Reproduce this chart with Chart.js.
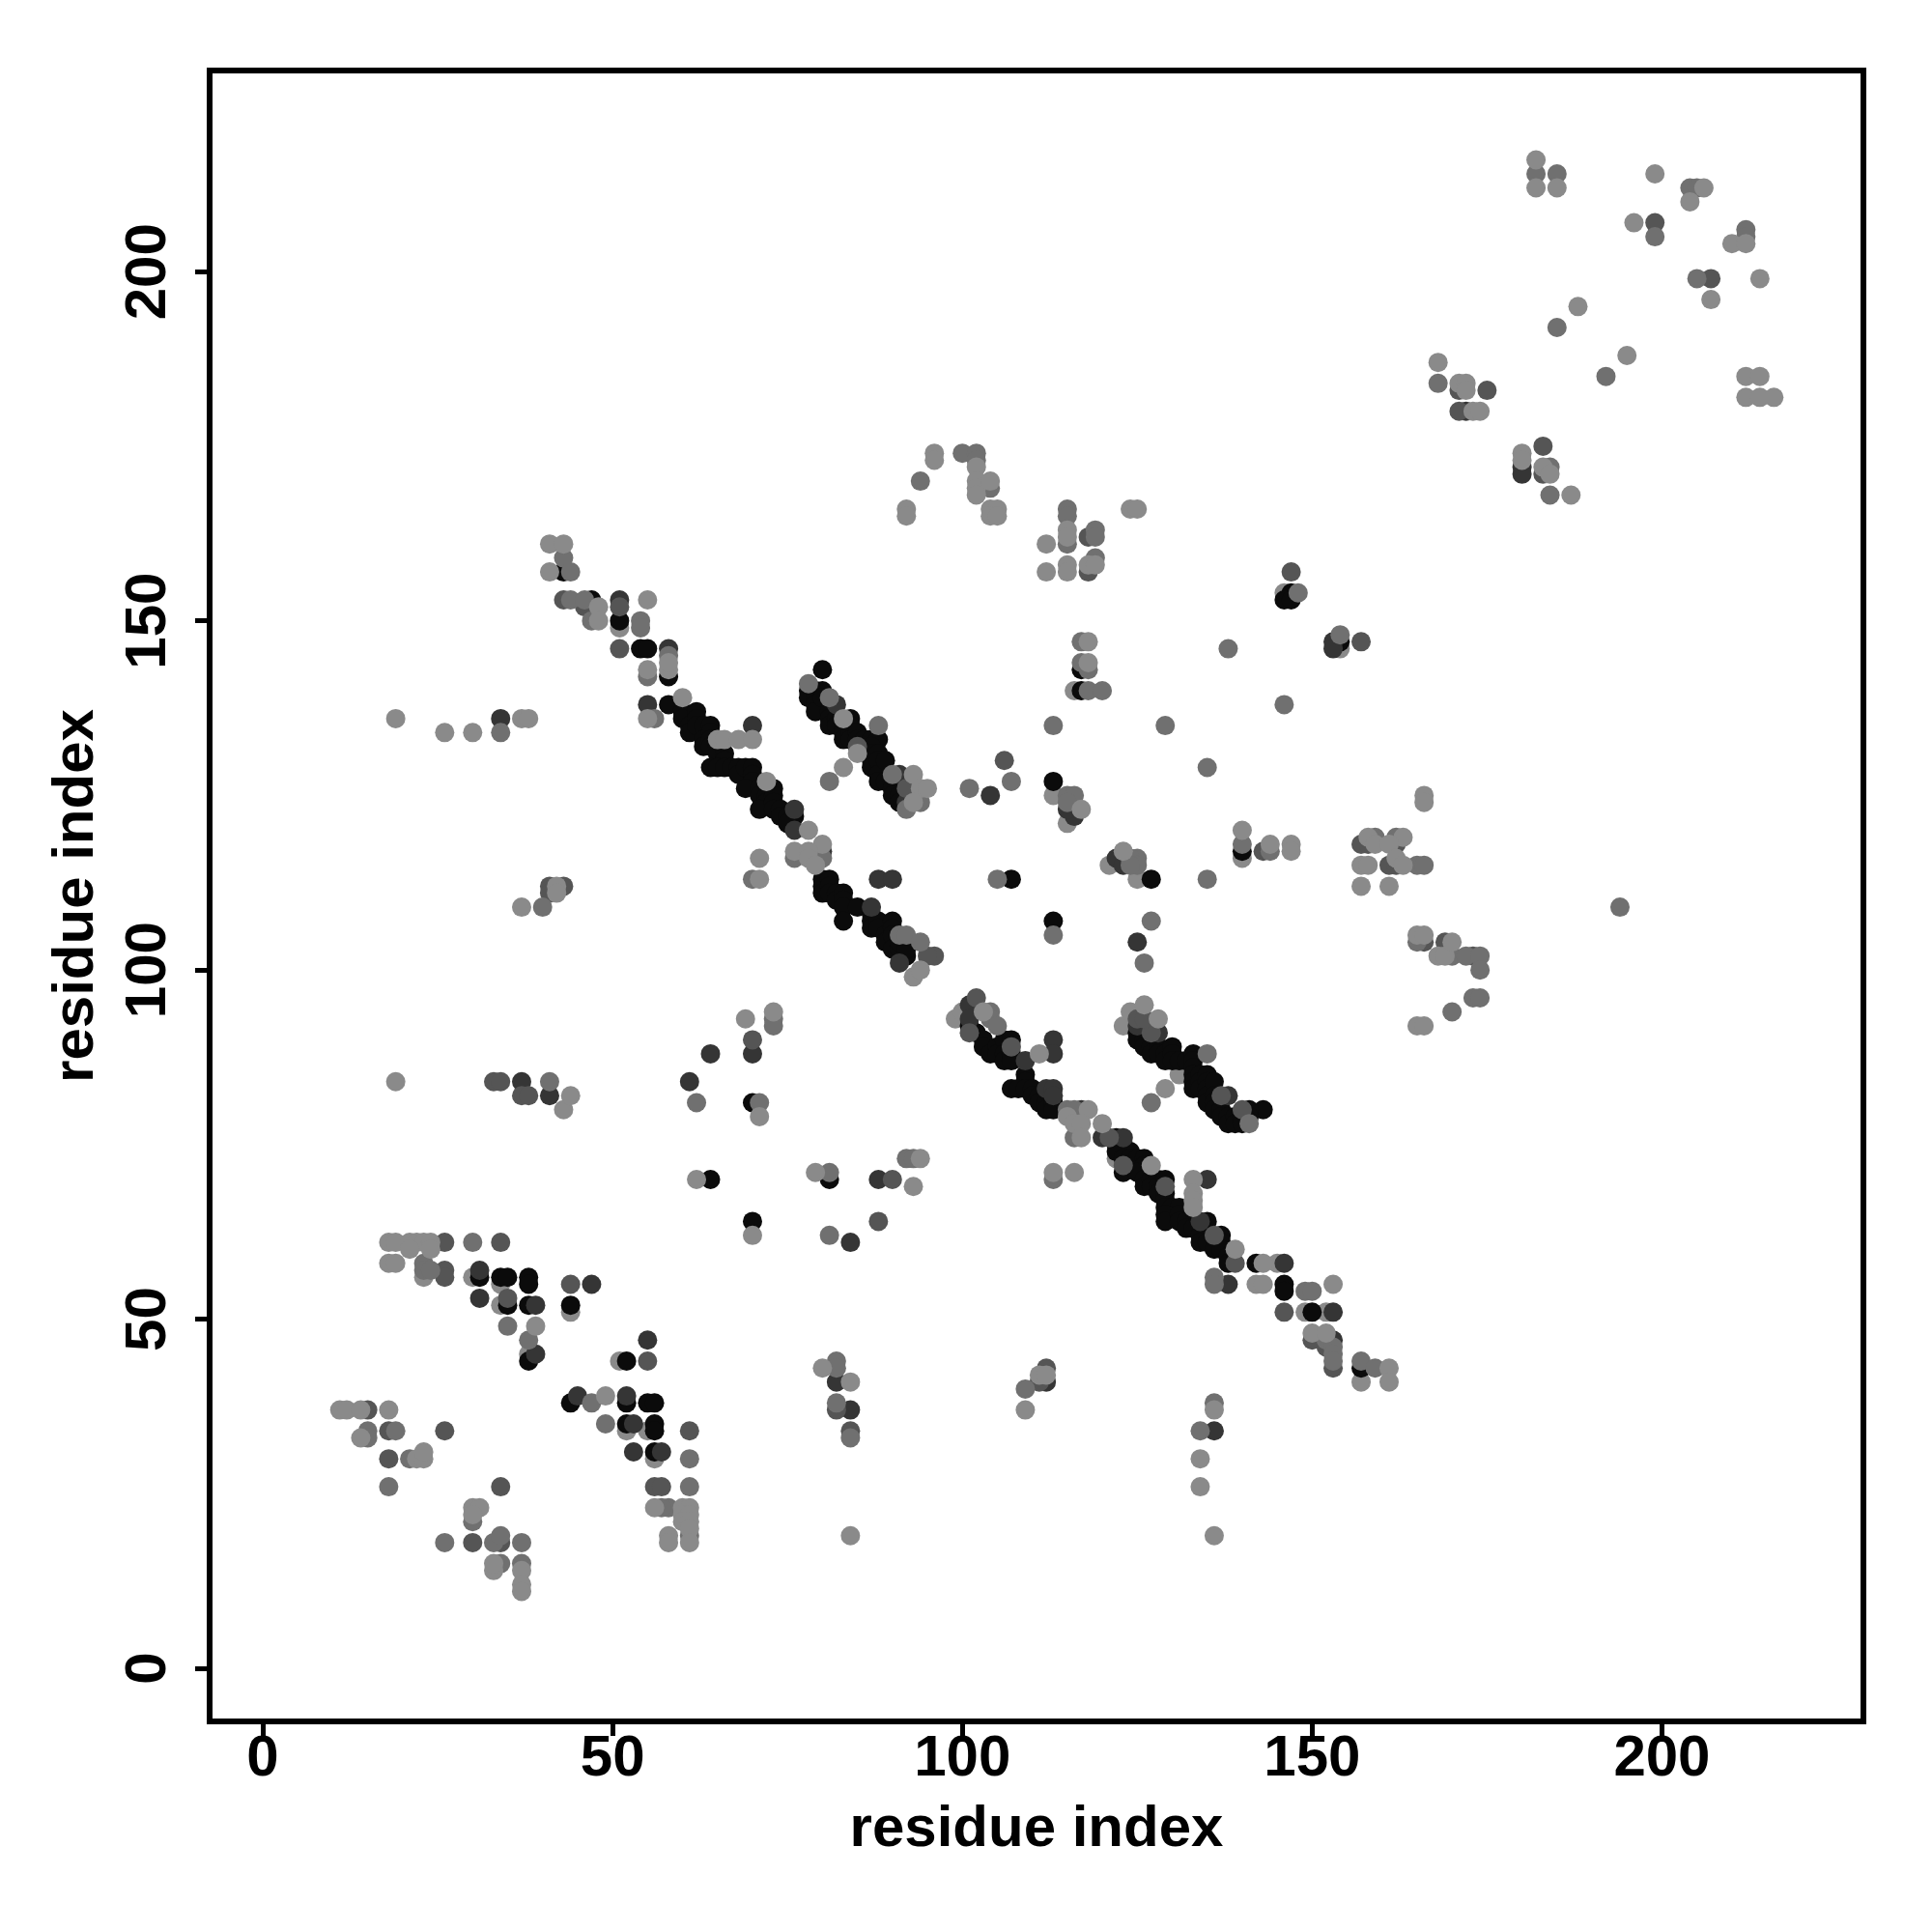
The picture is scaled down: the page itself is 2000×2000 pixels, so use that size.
<!DOCTYPE html>
<html lang="en">
<head>
  <meta charset="UTF-8" />
  <title>Contact map</title>
  <script src="https://cdn.jsdelivr.net/npm/chart.js"></script>
  <style>
    body { margin: 0; background: #fff; }
    canvas { display: block; }
  </style>
</head>
<body>
  <canvas id="contacts" width="2000" height="2000"></canvas>

  <script>
    // residue pairs [i, j], one list per gray level
    const lightTop = [[18,61],[19,61],[21,61],[22,61],[23,61],[24,61],[21,60],[24,60],[18,58],[19,58],[11,37],[12,37],[14,37],[18,37],[14,33],[22,30],[23,30],[23,31],[30,23],[31,23],[30,22],[60,23],[61,23],[60,22],[61,22],[60,21],[61,21],[61,20],[58,19],[58,18],[61,18],[33,14],[33,15],[37,14],[37,12],[37,11],[56,23],[39,49],[49,39],[70,62],[41,161],[43,161],[41,157],[48,152],[48,150],[55,153],[55,143],[58,143],[58,144],[19,136],[26,134],[30,134],[37,136],[38,136],[55,136],[60,139],[65,133],[66,133],[68,133],[70,133],[72,127],[78,120],[80,118],[76,117],[78,117],[78,116],[79,115],[71,116],[71,113],[83,129],[83,136],[93,128],[94,126],[95,126],[93,124],[93,99],[94,100],[85,131],[19,84],[43,80],[44,82],[37,109],[42,112],[42,111],[69,93],[73,94],[71,79],[62,70],[79,71],[94,73],[93,69],[84,19],[136,19],[134,30],[134,26],[136,37],[80,43],[84,41],[111,42],[112,42],[109,37],[113,71],[116,71],[103,94],[111,88],[118,80],[115,79],[116,78],[117,78],[120,78],[117,76],[127,72],[133,70],[133,68],[133,67],[133,66],[139,60],[143,58],[142,55],[143,55],[153,55],[150,48],[152,48],[161,43],[161,41],[126,95],[128,93],[129,83],[96,174],[96,173],[92,166],[92,165],[102,172],[102,170],[102,169],[102,168],[104,170],[104,166],[105,166],[104,165],[105,165],[124,166],[125,166],[112,161],[112,157],[115,163],[115,162],[115,158],[115,157],[118,158],[119,158],[118,147],[118,144],[117,123],[123,117],[140,120],[144,118],[147,118],[147,117],[166,125],[166,124],[158,119],[163,119],[159,118],[161,118],[162,116],[163,115],[157,115],[158,115],[157,112],[161,112],[165,105],[166,105],[165,92],[166,92],[168,102],[169,102],[170,104],[182,216],[182,212],[185,212],[199,214],[206,212],[204,210],[196,207],[210,204],[212,204],[214,199],[207,196],[188,195],[195,188],[212,185],[214,185],[212,182],[214,182],[216,182],[168,187],[171,184],[172,184],[172,183],[173,180],[174,180],[180,174],[180,173],[183,172],[184,171],[187,168]];
    const midPoints = [[30,61],[23,58],[23,57],[24,57],[15,34],[15,33],[19,34],[21,30],[18,26],[35,49],[38,47],[47,38],[49,35],[26,18],[33,18],[37,18],[34,19],[34,15],[37,15],[30,21],[61,30],[61,26],[61,19],[58,23],[57,23],[81,127],[88,135],[91,105],[92,105],[94,104],[78,141],[81,139],[90,128],[94,124],[92,123],[43,159],[44,157],[44,153],[46,153],[47,150],[54,150],[54,149],[55,142],[58,145],[56,136],[34,134],[70,113],[76,116],[80,116],[40,109],[62,81],[71,81],[92,73],[93,73],[73,93],[73,92],[81,71],[81,62],[41,84],[82,44],[82,43],[82,38],[84,33],[109,40],[136,38],[134,34],[101,126],[107,127],[113,135],[129,135],[127,107],[126,101],[113,105],[105,113],[135,113],[135,129],[115,125],[116,125],[115,124],[125,116],[124,116],[125,115],[124,115],[140,118],[144,117],[117,147],[117,144],[118,143],[118,140],[120,140],[146,138],[138,146],[115,166],[115,165],[115,161],[119,163],[119,162],[119,159],[100,174],[102,174],[102,173],[94,170],[104,169],[148,154],[154,148],[194,109],[159,119],[162,119],[165,115],[166,115],[170,102],[172,102],[174,102],[174,100],[173,96],[174,96],[170,94],[165,104],[168,184],[184,172],[184,168],[182,214],[185,214],[204,212],[205,212],[199,205],[212,206],[212,205],[205,199],[185,192],[192,185],[135,88],[141,78],[127,81],[104,94],[104,93],[105,92],[136,56],[136,55],[149,54],[150,54],[152,47],[153,46],[153,45],[153,44],[157,44],[159,43],[116,76],[115,80],[116,80],[113,70]];
    const dimPoints = [[26,61],[34,61],[26,57],[26,56],[44,55],[35,53],[55,44],[34,26],[18,34],[15,37],[26,34],[18,30],[61,34],[56,26],[57,26],[30,18],[34,18],[43,153],[46,152],[51,152],[51,146],[33,84],[34,84],[37,82],[38,82],[41,112],[41,111],[43,112],[106,130],[143,117],[157,147],[147,157],[118,157],[118,162],[171,180],[183,175],[183,171],[175,183],[171,183],[146,51],[150,47],[152,46],[153,43],[139,58],[136,62],[102,96],[101,91],[107,89],[85,132],[92,126],[96,102],[95,102],[70,90],[88,64],[82,37],[84,34],[112,43],[111,41],[90,70],[157,118],[158,118],[162,118],[161,115],[162,115],[166,104],[169,104],[173,102],[121,76],[123,72],[129,69],[137,82],[140,80],[127,91],[125,93],[126,93],[199,207],[207,199]];
    const darkPoints = [[31,57],[31,53],[39,52],[47,55],[39,45],[55,47],[45,39],[52,39],[53,35],[53,31],[57,31],[34,136],[51,153],[58,146],[55,138],[70,135],[76,120],[80,117],[82,138],[104,125],[116,122],[115,123],[122,116],[123,115],[125,104],[101,95],[101,93],[109,87],[113,90],[113,88],[112,83],[113,83],[113,82],[117,80],[120,76],[123,76],[135,70],[134,64],[138,55],[146,58],[153,51],[153,47],[112,41],[82,41],[84,37],[136,34],[64,88],[61,84],[70,88],[88,70],[84,61],[92,124],[88,113],[90,113],[87,109],[138,82],[172,180],[180,172],[180,171],[153,147],[153,146],[91,101],[37,84],[41,82],[125,92],[128,91],[91,128],[76,123]];
    const blackPoints = [[34,56],[35,56],[38,56],[38,55],[35,52],[38,52],[44,52],[38,44],[52,44],[44,38],[52,38],[55,38],[56,38],[52,35],[56,35],[56,34],[56,31],[31,56],[70,64],[64,70],[107,113],[113,107],[113,127],[127,113],[70,81],[81,70],[147,154],[146,153],[147,153],[154,147],[117,140],[117,143],[140,117],[157,43],[143,80],[146,55],[146,54],[142,58],[150,51],[43,157],[47,153],[51,150],[54,146],[55,146],[58,142],[58,138],
      [60,137],[60,136],[61,135],[61,134],[62,137],[62,136],[62,135],[63,135],[63,133],[63,132],[64,135],[64,134],[64,133],[64,132],[65,132],[65,131],[66,131],[66,130],[64,129],[65,129],[66,129],[67,129],[68,129],[68,128],[69,129],[70,129],[70,128],[70,127],[69,126],[71,126],[71,125],[72,125],[72,124],[73,126],[73,125],[71,123],[73,124],[73,123],[74,123],[74,122],[75,122],[76,122],[75,121],
      [78,140],[78,139],[79,140],[79,139],[79,138],[79,137],[80,143],[80,140],[80,139],[81,137],[81,136],[81,135],[82,136],[82,135],[83,135],[83,134],[83,133],[84,136],[84,135],[84,134],[84,133],[85,134],[85,133],[86,133],[87,133],[88,133],[87,132],[87,131],[87,130],[87,129],[88,131],[88,130],[88,128],[89,130],[88,127],[89,127],[90,127],[90,126],[90,125],[91,125],[91,124],
      [80,113],[80,112],[80,111],[81,113],[81,112],[81,111],[82,111],[82,110],[83,111],[83,110],[83,109],[83,107],[85,109],[87,108],[87,107],[87,106],[88,107],[88,106],[89,105],[89,104],[90,107],[90,106],[90,105],[90,103],[91,103],[91,104],[92,102],[92,103],
      [101,92],[102,91],[103,90],[103,89],[104,88],[105,89],[105,88],[106,90],[106,88],[106,87],[107,90],[107,88],[107,87],[109,85],[109,84],[107,83],[108,83],[109,83],[110,83],[110,82],[111,82],[111,81],[112,81],[112,80],[113,81],[113,80],
      [122,76],[122,75],[123,75],[123,74],[122,74],[124,74],[123,73],[124,73],[125,73],[126,73],[123,71],[126,72],[125,71],[126,70],[126,69],[127,70],[127,69],[128,70],[128,69],[128,68],[129,70],[129,68],[129,67],[129,66],[130,66],[131,66],[129,65],[129,64],[131,65],[131,64],[132,64],[132,63],[133,63],[134,62],[134,61],[135,64],[135,61],[136,60],[137,62],[137,61],[137,60],[138,59],[138,58],
      [125,91],[125,90],[126,90],[126,89],[127,89],[127,88],[128,89],[128,88],[129,88],[129,87],[130,89],[130,88],[130,87],[131,87],[132,87],[133,88],[133,87],[133,86],[133,85],[133,84],[133,83],[134,85],[134,84],[134,83],[135,85],[135,84],[135,83],[135,82],[135,81],[136,84],[136,82],[136,81],[136,80],[137,80],[137,79],[138,79],[138,78],[139,79],[139,78],[140,79],[140,78],[141,80],[141,79]];
    const lightUnder = [[30,56],[34,55],[34,52],[44,51],[52,34],[55,34],[56,30],[51,44],[51,149],[146,154],[154,146],[116,140],[113,125],[125,113],[145,58],[149,51],[152,51],[140,116],[157,41],[38,45],[115,121],[121,115],[99,93],[100,94],[123,92],[124,94],[122,73],[131,85],[23,56]];

    const xyTicks = [0, 50, 100, 150, 200];

    const toXY = pts => pts.map(p => ({ x: p[0], y: p[1] }));

    // first dataset ends up on top
    const layers = [
      { data: lightTop, color: '#8a8a8a' },
      { data: midPoints, color: '#707070' },
      { data: dimPoints, color: '#555555' },
      { data: darkPoints, color: '#353535' },
      { data: blackPoints, color: '#0b0b0b' },
      { data: lightUnder, color: '#8a8a8a' }
    ];

    const labelFont = { family: '"Liberation Sans"', size: 60, weight: 'bold' };

    const boxPlugin = {
      id: 'box',
      afterDraw(chart) {
        const a = chart.chartArea;
        const ctx = chart.ctx;
        ctx.save();
        ctx.strokeStyle = '#000';
        ctx.lineWidth = 6;
        ctx.strokeRect(a.left, a.top, a.right - a.left, a.bottom - a.top);
        ctx.restore();
      }
    };

    function axis(extra, titlePadding) {
      return Object.assign({
        type: 'linear',
        min: -7.6,
        max: 228.8,
        afterBuildTicks(scale) {
          scale.ticks = xyTicks.map(v => ({ value: v }));
        },
        title: { display: true, text: 'residue index', color: '#000', font: labelFont, padding: titlePadding },
        border: { display: false },
        grid: {
          drawOnChartArea: false,
          drawTicks: true,
          tickLength: 15,
          tickWidth: 5,
          tickColor: '#000'
        }
      }, extra);
    }

    new Chart(document.getElementById('contacts'), {
      type: 'scatter',
      data: {
        datasets: layers.map(l => ({
          data: toXY(l.data),
          backgroundColor: l.color,
          borderWidth: 0,
          pointRadius: 10,
          pointHoverRadius: 10
        }))
      },
      options: {
        responsive: false,
        animation: false,
        layout: { padding: { top: 73, right: 71, left: 0, bottom: 0 } },
        plugins: { legend: { display: false }, tooltip: { enabled: false } },
        scales: {
          x: axis({
            ticks: { color: '#000', font: labelFont, padding: -12, maxRotation: 0, minRotation: 0 },
            afterFit(scale) { scale.height = 218; }
          }, { top: 0, bottom: 70 }),
          y: axis({
            ticks: { color: '#000', font: labelFont, padding: -2.5, minRotation: 90, maxRotation: 90, crossAlign: 'center' },
            afterFit(scale) { scale.width = 217; }
          }, { top: 43, bottom: 0 })
        }
      },
      plugins: [boxPlugin]
    });
  </script>
</body>
</html>
